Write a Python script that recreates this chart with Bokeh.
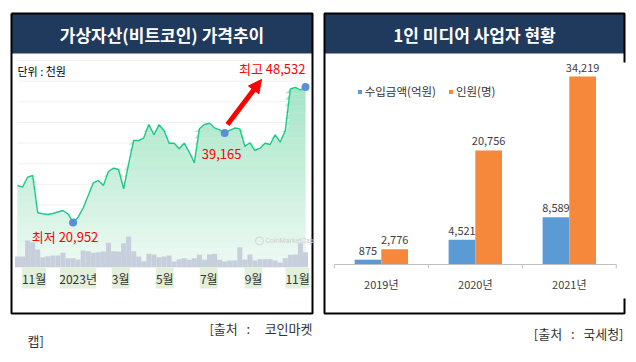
import numpy as np
import pandas as pd
from bokeh.plotting import figure
from bokeh.models import Range1d, Arrow, NormalHead, Legend, LegendItem
from bokeh.core.properties import value
from bokeh.embed import file_html
from bokeh.resources import INLINE

FONT = "Noto Sans CJK KR"

# ---------------- data: left chart (비트코인 주간 가격, 천원) ----------------
price_start = "2022-10-09"
price = [28464, 28118, 30153, 30499, 22910, 22706, 22564, 22767, 23073, 23378,
         22666, 20952, 22015, 23886, 26430, 28973, 29481, 28464, 31313, 31984,
         31720, 27793, 32879, 37620, 37620, 38169, 40875, 38780, 40814, 39654,
         37071, 37071, 35931, 37071, 35239, 33083, 40000, 40875, 41140, 40204,
         39800, 39165, 39700, 40163, 40000, 36399, 37152, 35585, 36053, 37071,
         36806, 38780, 37274, 39654, 48100, 48450, 47900, 48532]
# relative weekly trading volume
volume = [32, 32, 80, 75, 53, 30, 33, 35, 35, 43,
          27, 27, 23, 50, 48, 43, 45, 47, 73, 48,
          47, 72, 92, 48, 32, 18, 40, 38, 30, 32,
          35, 17, 24, 27, 22, 27, 37, 22, 38, 40,
          22, 17, 20, 20, 60, 23, 38, 20, 24, 24,
          24, 20, 14, 27, 37, 38, 72, 45]
month_labels = ["11월", "2023년", "3월", "5월", "7월", "9월", "11월"]
month_dates = ["2022-11-01", "2023-01-01", "2023-03-01", "2023-05-01",
               "2023-07-01", "2023-09-01", "2023-11-01"]
low_value, mid_value, high_value = 20952, 39165, 48532

# ---------------- data: right chart (1인 미디어 사업자) ----------------
years = ["2019년", "2020년", "2021년"]
income = [875, 4521, 8589]        # 수입금액(억원)
people = [2776, 20756, 34219]     # 인원(명)

# ---------------- layout helpers ----------------
W, H = 628, 350
OX, OY = 0, 0  # page offset of the figure in the screenshot


def lin_range(d0, d1, p0, p1, lo, hi):
    s = (d1 - d0) / (p1 - p0)
    return Range1d(start=d0 + (lo - p0) * s, end=d0 + (hi - p0) * s)


def to_ms(x):
    return pd.to_datetime(x).values.astype("datetime64[ms]").astype("int64").astype(float)


dates = pd.date_range(price_start, periods=len(price), freq="7D")
dms = to_ms(dates)
mms = to_ms(month_dates)
price_a = np.array(price, dtype=float)
week_ms = 7 * 86400000.0

p = figure(width=W, height=H, x_range=Range1d(OX, OX + W), y_range=Range1d(OY + H, OY),
           output_backend="svg", toolbar_location=None, min_border=0,
           x_axis_type=None, y_axis_type=None, outline_line_color=None,
           background_fill_color="white", border_fill_color="white")

p.extra_x_ranges = {
    "date": lin_range(dms[0], dms[-1], 17, 305, OX, OX + W),
    "bx": lin_range(0, 2, 380.8, 568.8, OX, OX + W),
}
p.extra_y_ranges = {
    "price": lin_range(low_value, high_value, 221.9, 86.4, OY + H, OY),
    "vol": lin_range(0, 90, 266.7, 236.7, OY + H, OY),
    "by": lin_range(0, people[2], 264, 76, OY + H, OY),
}

NAVY = "#1f3a5c"
# ---------------- panel frames & headers ----------------
p.quad(left=[11, 324], right=[312, 624], top=[13, 13], bottom=[53, 53],
       fill_color=NAVY, line_color=None)
p.multi_line(xs=[[11, 312, 312, 11, 11]], ys=[[13, 13, 313, 313, 13]],
             line_color="black", line_width=2)
p.multi_line(xs=[[624, 624, 324, 324, 624, 624]],
             ys=[[62, 13, 13, 313, 313, 298]],
             line_color="black", line_width=2)
p.text(x=[161.5, 474], y=[33.5, 33.5],
       text=["가상자산(비트코인) 가격추이", "1인 미디어 사업자 현황"],
       text_font=value(FONT), text_font_style="bold", text_font_size="17px",
       text_color="white", text_align="center", text_baseline="middle")

# ---------------- left chart ----------------
grid_y = 60 + 20.65 * np.arange(10)
p.segment(x0=[17] * 10, x1=[305] * 10, y0=grid_y, y1=grid_y,
          line_color="#f1f1f1", line_width=1)

base_price = low_value + (266.7 - 221.9) * (-(high_value - low_value) / (221.9 - 86.4))
top_price = price_a.max()
c_top = np.array([0xa4, 0xe6, 0xc5])
c_bot = np.array([0xf0, 0xfa, 0xf5])
p.varea(x=dms, y1=price_a, y2=base_price, fill_color="#d2f2e2", x_range_name="date",
        y_range_name="price")
nb = 28
levels = np.linspace(base_price, top_price, nb + 1)
for i in range(nb):
    lo, hi = levels[i], levels[i + 1]
    t = (i + 0.5) / nb
    c = (c_bot * (1 - t) + c_top * t).astype(int)
    col = "#%02x%02x%02x" % tuple(c)
    y1 = np.clip(price_a, lo, hi)
    p.varea(x=dms, y1=y1, y2=lo, fill_color=col, x_range_name="date", y_range_name="price")

p.vbar(x=dms, top=volume, bottom=0, width=week_ms, fill_color="#c7cfdc", line_color=None,
       x_range_name="date", y_range_name="vol")

p.line(x=dms, y=price_a, line_color="#1dc98a", line_width=1.4,
       x_range_name="date", y_range_name="price")

i_low = price.index(low_value)
i_mid = price.index(mid_value)
i_high = price.index(high_value)
p.scatter(x=dms[[i_low, i_mid, i_high]], y=[low_value, mid_value, high_value],
          size=8, fill_color="#5b8ed6", line_color=None,
          x_range_name="date", y_range_name="price")

RED = "#ff0000"
p.text(x=[dms[i_low]], y=[low_value], text=[f"최저 {low_value:,}"], x_offset=-8, y_offset=14,
       text_font=value(FONT), text_font_size="13px", text_color=RED,
       text_align="center", text_baseline="middle", x_range_name="date", y_range_name="price")
p.text(x=[dms[i_mid]], y=[mid_value], text=[f"{mid_value:,}"], x_offset=-3, y_offset=21,
       text_font=value(FONT), text_font_size="13px", text_color=RED,
       text_align="center", text_baseline="middle", x_range_name="date", y_range_name="price")
p.text(x=[dms[i_high]], y=[high_value], text=[f"최고 {high_value:,}"], x_offset=0, y_offset=-18,
       text_font=value(FONT), text_font_size="13px", text_color=RED,
       text_align="right", text_baseline="middle", x_range_name="date", y_range_name="price")

p.add_layout(Arrow(end=NormalHead(size=13, fill_color=RED, line_color=RED),
                   x_start=227, y_start=124, x_end=261, y_end=79,
                   line_color=RED, line_width=5))

p.text(x=[17], y=[70], text=["단위 : 천원"], text_font=value(FONT), text_font_size="11px",
       text_color="black", text_align="left", text_baseline="middle")

# watermark
p.scatter(x=[259], y=[240.5], marker="circle", size=8, fill_color=None,
          line_color="#d4d4d4", line_width=1)
p.text(x=[265], y=[240.5], text=["CoinMarketCap"], text_font=value("Roboto"),
       text_font_size="7px", text_color="#cfcfcf", text_align="left", text_baseline="middle")

# month labels
nchar = np.array([len(s) for s in month_labels])
p.rect(x=mms, y=277.5, width=6 + 6 * nchar, height=21, width_units="screen",
       fill_color="#e2efda", line_color=None, x_range_name="date")
p.text(x=mms, y=[278] * len(mms), text=month_labels, text_font=value(FONT),
       text_font_size="12px", text_color="#333333", text_align="center",
       text_baseline="middle", x_range_name="date")

# ---------------- right chart ----------------
idx = np.arange(len(years), dtype=float)
bw = 0.284
r_inc = p.vbar(x=idx - bw / 2, top=income, bottom=0, width=bw, fill_color="#5b9bd5",
               line_color=None, x_range_name="bx", y_range_name="by")
r_ppl = p.vbar(x=idx + bw / 2, top=people, bottom=0, width=bw, fill_color="#f5883a",
               line_color=None, x_range_name="bx", y_range_name="by")
p.text(x=idx - bw / 2, y=income, text=[f"{v:,}" for v in income], y_offset=-5,
       text_font=value(FONT), text_font_size="11px", text_color="#404040",
       text_align="center", text_baseline="bottom", x_range_name="bx", y_range_name="by")
p.text(x=idx + bw / 2, y=people, text=[f"{v:,}" for v in people], y_offset=-5,
       text_font=value(FONT), text_font_size="11px", text_color="#404040",
       text_align="center", text_baseline="bottom", x_range_name="bx", y_range_name="by")

# category axis
p.segment(x0=[-0.5], x1=[2.5], y0=[0], y1=[0], line_color="#bfbfbf", line_width=1,
          x_range_name="bx", y_range_name="by")
bnd = np.array([-0.5, 0.5, 1.5, 2.5])
p.segment(x0=bnd, x1=bnd, y0=[0] * 4, y1=[-700] * 4, line_color="#bfbfbf", line_width=1,
          x_range_name="bx", y_range_name="by")
p.text(x=idx, y=[0] * 3, text=years, y_offset=19, text_font=value(FONT),
       text_font_size="11px", text_color="#404040", text_align="center",
       text_baseline="middle", x_range_name="bx", y_range_name="by")

legend = Legend(items=[LegendItem(label="수입금액(억원)", renderers=[r_inc]),
                       LegendItem(label="인원(명)", renderers=[r_ppl])],
                orientation="horizontal", location=(356.7 - OX, 250.7),
                glyph_width=5, glyph_height=5, label_standoff=3, spacing=12,
                padding=0, margin=0, label_height=12,
                label_text_font=FONT, label_text_font_size="11.5px",
                label_text_color="#333333", label_text_baseline="middle",
                border_line_color=None, background_fill_alpha=0)
p.add_layout(legend, "center")

# ---------------- sources ----------------
NB = "\u00a0"
p.text(x=[312], y=[327.5], text=[f"[출처{NB * 3}:{NB * 5}코인마켓"], text_font=value(FONT),
       text_font_size="13px", text_color="#333333", text_align="right", text_baseline="middle")
p.text(x=[27], y=[340], text=["캡]"], text_font=value(FONT),
       text_font_size="13px", text_color="#333333", text_align="left", text_baseline="middle")
p.text(x=[623], y=[333], text=[f"[출처{NB * 3}:{NB * 3}국세청]"], text_font=value(FONT),
       text_font_size="13px", text_color="#333333", text_align="right", text_baseline="middle")

open("out.html", "w").write(file_html(p, INLINE))
